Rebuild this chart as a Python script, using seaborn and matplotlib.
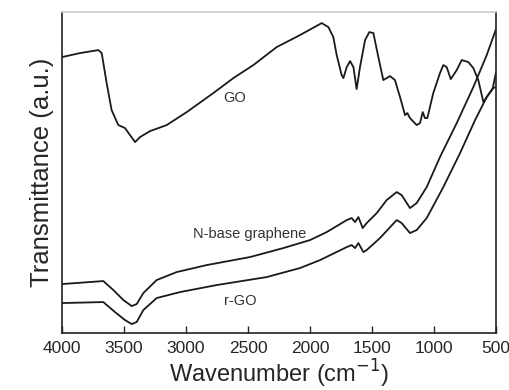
import pandas as pd
import matplotlib
matplotlib.use("Agg")
import matplotlib.pyplot as plt
import seaborn as sns

# Espectros FTIR (unidades arbitrarias)
go_wn = [4000, 3855, 3707, 3680, 3640, 3600, 3546, 3492, 3411, 3371, 3290, 3156,
         2994, 2780, 2618, 2457, 2269, 2081, 1906, 1852, 1812, 1785, 1745, 1731,
         1704, 1677, 1650, 1624, 1597, 1556, 1522, 1489, 1449, 1409, 1382, 1355,
         1315, 1274, 1234, 1215, 1194, 1140, 1113, 1091, 1073, 1054, 1006, 952,
         925, 898, 865, 817, 777, 723, 683, 643, 602, 575, 522, 500]
go_t = [276, 280, 283, 280, 250, 223, 208, 205, 191, 196, 202, 208,
        221, 240, 255, 268, 286, 298, 310, 306, 296, 278, 258, 255,
        266, 272, 266, 244, 266, 293, 301, 300, 276, 253, 255, 257,
        253, 236, 218, 220, 215, 208, 210, 221, 215, 215, 240, 260,
        268, 266, 254, 263, 273, 271, 265, 253, 231, 236, 245, 246]

nb_wn = [4000, 3667, 3586, 3505, 3438, 3398, 3344, 3237, 3075, 2833, 2484, 2215,
         2000, 1865, 1704, 1664, 1637, 1610, 1575, 1543, 1462, 1382, 1301, 1261,
         1194, 1140, 1059, 952, 817, 683, 575, 500]
nb_t = [49, 52, 43, 33, 27, 29, 40, 53, 61, 68, 76, 85,
        93, 101, 113, 115, 111, 116, 105, 110, 120, 133, 141, 138,
        125, 130, 146, 176, 210, 246, 278, 304]

rgo_wn = [4000, 3667, 3573, 3492, 3438, 3398, 3344, 3237, 3048, 2753, 2349, 2081,
          1919, 1704, 1664, 1637, 1610, 1570, 1543, 1436, 1301, 1261, 1194, 1140,
          1059, 925, 790, 669, 575, 526, 500]
rgo_t = [30, 31, 21, 13, 9, 11, 23, 35, 41, 48, 56, 65,
         73, 86, 88, 85, 90, 81, 83, 95, 113, 110, 100, 103,
         115, 146, 180, 213, 236, 245, 261]

labels = ["GO", "N-base graphene", "r-GO"]
label_pos = [(2605, 235), (2484, 99), (2565, 32)]

df = pd.concat([
    pd.DataFrame({"wn": go_wn, "t": go_t, "muestra": "GO"}),
    pd.DataFrame({"wn": nb_wn, "t": nb_t, "muestra": "N-base graphene"}),
    pd.DataFrame({"wn": rgo_wn, "t": rgo_t, "muestra": "r-GO"}),
])

sns.set_style("ticks")
plt.rcParams["font.family"] = ["Liberation Sans", "DejaVu Sans"]

fig = plt.figure(figsize=(5.1, 3.9), dpi=100)
ax = fig.add_axes([0.1216, 0.146, 0.851, 0.823])

sns.lineplot(data=df, x="wn", y="t", hue="muestra", units="muestra",
             estimator=None, sort=False, palette=["#1a1a1a"] * 3,
             linewidth=1.3, legend=False, ax=ax)

for txt, (x, y) in zip(labels, label_pos):
    ax.text(x, y, txt, ha="center", va="center", fontsize=10.5, color="#333333")

ax.set_xlim(4000, 500)
ax.set_ylim(0, 321)
ax.set_xticks([4000, 3500, 3000, 2500, 2000, 1500, 1000, 500])
ax.set_yticks([])
ax.tick_params(axis="x", direction="in", length=5, width=1, labelsize=12.5, pad=6)
ax.set_xlabel("Wavenumber (cm$^{-1}$)", fontsize=17, labelpad=1)
ax.set_ylabel("Transmittance (a.u.)", fontsize=18.5, labelpad=6)

for side in ["left", "right", "bottom"]:
    ax.spines[side].set_color("#222222")
    ax.spines[side].set_linewidth(1.2)
ax.spines["top"].set_color("#cccccc")
ax.spines["top"].set_linewidth(1.2)

fig.savefig("out.png", dpi=100)
